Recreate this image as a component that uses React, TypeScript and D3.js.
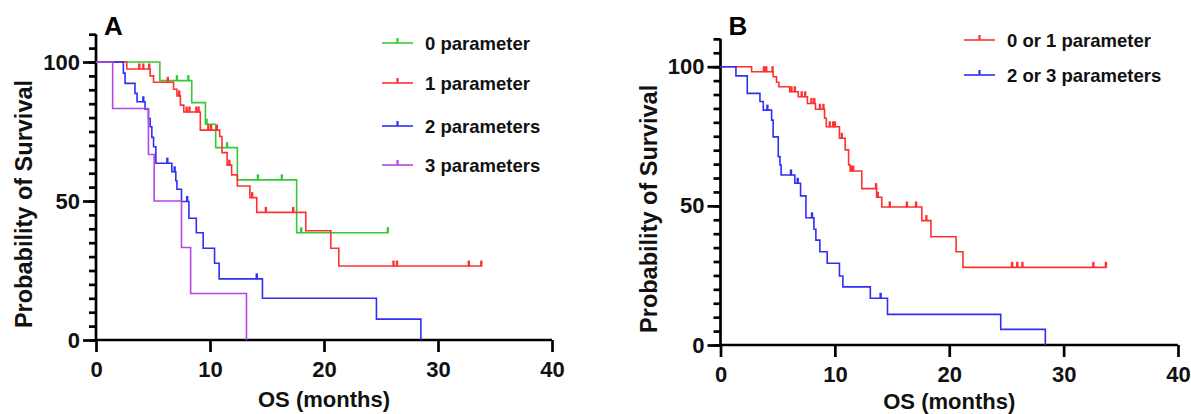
import * as d3 from 'd3';
import { useEffect, useRef } from 'react';

// Panel A: survival by number of parameters (months, % survival after each drop)
const a0Drops = [5.6, 8.4, 9.6, 10.5, 12.4, 17.6];
const a0Surv = [93.3, 85.4, 77.6, 69.2, 57.6, 38.6];
const a0Censor = [7.1, 8.1, 9.7, 11.5, 14.2, 16.3, 18.0, 25.6];

const a1Drops = [2.7, 4.75, 5.05, 6.8, 7.1, 7.4, 7.7, 9.15, 10.85, 11.05, 11.5, 11.9, 12.4, 13.5, 14.1, 18.4, 20.6, 21.3];
const a1Surv = [97.5, 95, 92.7, 90.2, 87.8, 84.5, 82, 75.5, 73.2, 67.4, 62.9, 59.4, 55.4, 51.2, 45.9, 39.3, 33, 26.6];
const a1Censor = [3.8, 4.15, 4.67, 6.3, 7.3, 7.95, 8.2, 8.8, 9.0, 9.85, 10.1, 10.6, 11.7, 13.7, 14.9, 17.3, 26.1, 26.4, 32.7, 33.8];

const a2Drops = [2.4, 2.55, 3.42, 3.6, 4.3, 4.6, 4.75, 4.9, 5.05, 5.25, 6.65, 7.0, 7.1, 7.5, 8.15, 8.8, 9.4, 10.4, 10.8, 14.6, 24.6, 28.5];
const a2Surv = [96, 92.3, 88.7, 85.7, 83, 79.7, 76.7, 72.9, 69.5, 63.6, 60.5, 57.3, 54.2, 49.8, 43.8, 38.6, 33, 27.6, 22, 15, 7.5, 0];
const a2Censor = [4.15, 6.26, 6.9, 8.0, 14.1];

const a3Drops = [1.46, 4.6, 5.1, 7.5, 8.3, 13.2];
const a3Surv = [83.3, 66.7, 50, 33.3, 16.7, 0];
const a3Censor: number[] = [];

// Panel B: 0 or 1 vs 2 or 3 parameters
const b01Drops = [2.72, 4.6, 4.9, 5.1, 6.05, 6.8, 7.6, 8.3, 9.1, 9.25, 10.4, 10.9, 11.2, 11.35, 12.35, 13.65, 14.1, 17.6, 18.4, 20.6, 21.2];
const b01Surv = [98.2, 96.4, 94.4, 92.8, 91, 89.2, 86.8, 84.7, 81.5, 78.4, 74.3, 70.1, 64.7, 62.5, 56.2, 53.1, 49.6, 44.7, 38.9, 33.5, 27.9];
const b01Censor = [3.8, 4.0, 4.55, 6.2, 6.5, 7.1, 7.4, 7.95, 8.2, 8.7, 9.0, 9.56, 9.85, 10.0, 10.6, 11.4, 11.6, 13.6, 13.75, 14.8, 16.3, 17.1, 18.0, 25.5, 25.95, 26.4, 32.6, 33.7];

const b23Drops = [1.35, 2.34, 3.45, 3.74, 4.47, 4.6, 5.05, 5.2, 5.3, 6.5, 7.0, 7.47, 8.17, 8.34, 8.69, 9.33, 10.4, 10.7, 13.1, 14.6, 24.5, 28.4];
const b23Surv = [96.7, 90.4, 87.5, 84.4, 80.8, 74.8, 67.7, 64.7, 61.1, 58.1, 53.6, 45.7, 41.6, 37.7, 33.5, 29.4, 24.8, 20.9, 16.8, 11, 5.6, 0];
const b23Censor = [4.1, 6.16, 6.75, 8.0, 14.0];

const xTicks = [0, 10, 20, 30, 40];
const yTicks = [0, 50, 100];

const GREEN = '#36c936';
const RED = '#ff3030';
const BLUE = '#2f2ff5';
const PURPLE = '#b547e6';
const FONT = '"Liberation Sans", Arial, sans-serif';

type Curve = { label: string; color: string; drops: number[]; surv: number[]; censor: number[] };

const panelA = {
  letter: 'A',
  x0: 96, x1: 552, y0: 340, y100: 62,
  curves: [
    { label: '0 parameter', color: GREEN, drops: a0Drops, surv: a0Surv, censor: a0Censor },
    { label: '1 parameter', color: RED, drops: a1Drops, surv: a1Surv, censor: a1Censor },
    { label: '2 parameters', color: BLUE, drops: a2Drops, surv: a2Surv, censor: a2Censor },
    { label: '3 parameters', color: PURPLE, drops: a3Drops, surv: a3Surv, censor: a3Censor },
  ] as Curve[],
  legendX: 382, legendY: [43, 83, 126, 165],
  titleY: 407,
};

const panelB = {
  letter: 'B',
  x0: 720.5, x1: 1178, y0: 345, y100: 66.7,
  curves: [
    { label: '0 or 1 parameter', color: RED, drops: b01Drops, surv: b01Surv, censor: b01Censor },
    { label: '2 or 3 parameters', color: BLUE, drops: b23Drops, surv: b23Surv, censor: b23Censor },
  ] as Curve[],
  legendX: 964, legendY: [40, 75],
  titleY: 409,
};

function survAt(c: Curve, t: number) {
  let s = 100;
  c.drops.forEach((d, i) => { if (d <= t) s = c.surv[i]; });
  return s;
}

function drawPanel(svg: any, p: typeof panelA) {
  const g = svg.append('g');
  const x = d3.scaleLinear().domain([0, 40]).range([p.x0, p.x1]);
  const y = d3.scaleLinear().domain([0, 100]).range([p.y0, p.y100]);

  // minor y ticks
  const minor = d3.range(0, 111, 5);
  const yMinor = d3.axisLeft(y).tickValues(minor).tickSize(7).tickFormat(() => '');
  g.append('g').attr('transform', `translate(${p.x0},0)`).call(yMinor)
    .call((s: any) => s.select('.domain').remove());

  const yAxis = d3.axisLeft(y).tickValues(yTicks).tickSize(13).tickPadding(3).tickFormat(d3.format('d'));
  const ya = g.append('g').attr('transform', `translate(${p.x0},0)`).call(yAxis);
  ya.select('.domain').attr('d', `M0,${p.y0}V${y(110)}`);

  const xAxis = d3.axisBottom(x).tickValues(xTicks).tickSize(12).tickPadding(9).tickFormat(d3.format('d'));
  const xa = g.append('g').attr('transform', `translate(0,${p.y0})`).call(xAxis);
  xa.select('.domain').attr('d', `M${p.x0},0H${p.x1}`);

  g.selectAll('.domain, .tick line').attr('stroke', '#000').attr('stroke-width', 2.7);
  g.selectAll('.tick text').attr('font-size', 22).attr('font-weight', 700).attr('font-family', FONT).attr('fill', '#111');

  // axis titles
  g.append('text')
    .attr('transform', `translate(${p.x0 - 64},${(p.y0 + y(100)) / 2 + 3}) rotate(-90)`)
    .attr('text-anchor', 'middle').attr('font-size', 23.5).attr('font-weight', 700).attr('font-family', FONT).attr('fill', '#111')
    .text('Probability of Survival');
  g.append('text')
    .attr('x', x(20)).attr('y', p.titleY)
    .attr('text-anchor', 'middle').attr('font-size', 22).attr('font-weight', 700).attr('font-family', FONT).attr('fill', '#111')
    .text('OS (months)');
  g.append('text')
    .attr('x', p.x0 + 8).attr('y', 35)
    .attr('font-size', 26).attr('font-weight', 700).attr('font-family', FONT).attr('fill', '#000')
    .text(p.letter);

  const line = d3.line<[number, number]>().x(d => x(d[0])).y(d => y(d[1])).curve(d3.curveStepAfter);

  p.curves.forEach(c => {
    const last = c.surv[c.surv.length - 1];
    const end = Math.max(c.drops[c.drops.length - 1], ...c.censor);
    const pts: [number, number][] = [[0, 100], ...c.drops.map((t, i) => [t, c.surv[i]] as [number, number]), [end, last]];
    g.append('path').attr('d', line(pts)).attr('fill', 'none').attr('stroke', c.color).attr('stroke-width', 1.6);
    g.selectAll(null).data(c.censor).join('line')
      .attr('x1', (t: number) => x(t)).attr('x2', (t: number) => x(t))
      .attr('y1', (t: number) => y(survAt(c, t)) + 0.5).attr('y2', (t: number) => y(survAt(c, t)) - 5.5)
      .attr('stroke', c.color).attr('stroke-width', 2.4);
  });

  // legend
  p.curves.forEach((c, i) => {
    const ly = p.legendY[i];
    const lg = g.append('g');
    lg.append('line').attr('x1', p.legendX).attr('x2', p.legendX + 31).attr('y1', ly).attr('y2', ly)
      .attr('stroke', c.color).attr('stroke-width', 1.6);
    lg.append('line').attr('x1', p.legendX + 15.5).attr('x2', p.legendX + 15.5).attr('y1', ly).attr('y2', ly - 5)
      .attr('stroke', c.color).attr('stroke-width', 2.2);
    lg.append('text').attr('x', p.legendX + 43).attr('y', ly + 6.5)
      .attr('font-size', 18.5).attr('font-weight', 700).attr('font-family', FONT).attr('fill', '#111')
      .text(c.label);
  });
}

export default function App() {
  const svgRef = useRef<SVGSVGElement>(null);

  useEffect(() => {
    const svg = d3.select(svgRef.current);
    svg.selectAll('*').remove();
    drawPanel(svg, panelA);
    drawPanel(svg, panelB);
  }, []);

  return (
    <svg ref={svgRef} width={1191} height={414}
      style={{ position: 'absolute', left: 0, top: 0, background: '#fff' }} />
  );
}
